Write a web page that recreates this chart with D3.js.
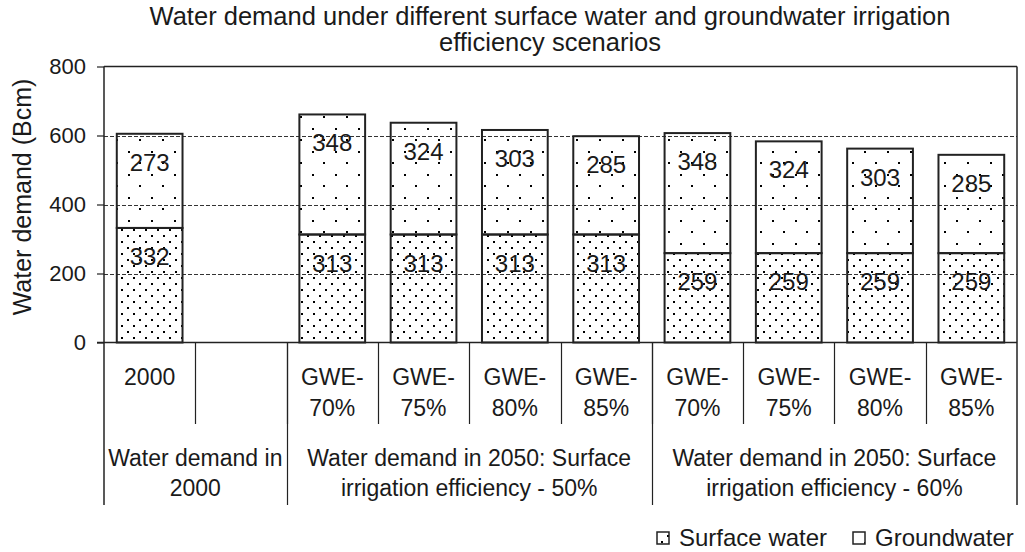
<!DOCTYPE html>
<html>
<head>
<meta charset="utf-8">
<script src="https://cdn.jsdelivr.net/npm/d3@7/dist/d3.min.js"></script>
<style>
body { margin: 0; background: #fff; }
svg { display: block; }
text { font-family: "Liberation Sans", Arial, sans-serif; fill: #1a1a1a; }
</style>
</head>
<body>
<svg id="chart" width="1025" height="552"></svg>
<script>
// data
var categories = ["2000", "", "GWE-70%", "GWE-75%", "GWE-80%", "GWE-85%", "GWE-70%", "GWE-75%", "GWE-80%", "GWE-85%"];
var catLines = [["2000"], [], ["GWE-", "70%"], ["GWE-", "75%"], ["GWE-", "80%"], ["GWE-", "85%"],
                ["GWE-", "70%"], ["GWE-", "75%"], ["GWE-", "80%"], ["GWE-", "85%"]];
var surfaceWater = [332, null, 313, 313, 313, 313, 259, 259, 259, 259];
var groundwater  = [273, null, 348, 324, 303, 285, 348, 324, 303, 285];
var groupLabels = [["Water demand in", "2000"],
                   ["Water demand in 2050: Surface", "irrigation efficiency - 50%"],
                   ["Water demand in 2050: Surface", "irrigation efficiency - 60%"]];
var groupSpans = [2, 4, 4];
var yTicks = [0, 200, 400, 600, 800];
var seriesNames = ["Surface water", "Groundwater"];

var svg = d3.select("#chart");
var pLeft = 104, pRight = 1017, pTop = 66.5, pBottom = 342.5;

// dot patterns
var defs = svg.append("defs");
function dots(id, size) {
  var p = defs.append("pattern").attr("id", id).attr("patternUnits", "userSpaceOnUse")
    .attr("width", size).attr("height", size);
  p.append("rect").attr("x", 1).attr("y", 1).attr("width", 2).attr("height", 2).attr("fill", "#000");
  p.append("rect").attr("x", 1 + Math.round(size / 2)).attr("y", 1 + Math.round(size / 2)).attr("width", 2).attr("height", 2).attr("fill", "#000");
}
dots("dense", 12);
dots("sparse", 23);

var x = d3.scaleBand().domain(d3.range(categories.length)).range([pLeft, pRight]).paddingInner(0).paddingOuter(0);
var y = d3.scaleLinear().domain([0, 800]).range([pBottom, pTop]);
var bw = x.bandwidth() * 0.72;

// title
svg.append("text").attr("text-anchor", "middle").style("font-size", "25.5px")
  .selectAll("tspan").data(["Water demand under different surface water and groundwater irrigation", "efficiency scenarios"])
  .enter().append("tspan").attr("x", 550).attr("y", function(d, i) { return 25 + i * 26; }).text(function(d) { return d; });

// grid lines
svg.selectAll("line.grid").data(yTicks.filter(function(t) { return t > 0 && t < 800; }))
  .enter().append("line").attr("class", "grid")
  .attr("x1", pLeft).attr("x2", pRight)
  .attr("y1", function(d) { return Math.round(y(d)) + 0.5; }).attr("y2", function(d) { return Math.round(y(d)) + 0.5; })
  .attr("stroke", "#333").attr("stroke-width", 1).attr("stroke-dasharray", "4,2");

// plot frame (top and right)
svg.append("line").attr("x1", pLeft).attr("x2", pRight).attr("y1", pTop).attr("y2", pTop).attr("stroke", "#222").attr("stroke-width", 1.5);
svg.append("line").attr("x1", pRight).attr("x2", pRight).attr("y1", pTop).attr("y2", 505).attr("stroke", "#222").attr("stroke-width", 1.5);

// y axis
var yAxis = d3.axisLeft(y).tickValues(yTicks).tickSize(7).tickPadding(11);
var ga = svg.append("g").attr("transform", "translate(" + pLeft + ",0)").call(yAxis);
ga.select(".domain").remove();
ga.selectAll(".tick line").attr("stroke", "#222").attr("stroke-width", 1.2);
ga.selectAll(".tick text").style("font-size", "22px").style("font-family", "Liberation Sans, Arial, sans-serif").attr("fill", "#1a1a1a");
svg.append("line").attr("x1", pLeft).attr("x2", pLeft).attr("y1", pTop).attr("y2", 505).attr("stroke", "#222").attr("stroke-width", 1.5);

svg.append("text").attr("transform", "translate(31,197) rotate(-90)").attr("text-anchor", "middle")
  .style("font-size", "25px").text("Water demand (Bcm)");

// bars
var stacked = categories.map(function(c, i) { return { i: i, s: surfaceWater[i], g: groundwater[i] }; })
  .filter(function(d) { return d.s != null; });

var bars = svg.selectAll("g.bar").data(stacked).enter().append("g").attr("class", "bar");
bars.append("rect")
  .attr("x", function(d) { return x(d.i) + (x.bandwidth() - bw) / 2; })
  .attr("width", bw)
  .attr("y", function(d) { return y(d.s + d.g); })
  .attr("height", function(d) { return y(d.s) - y(d.s + d.g); })
  .attr("fill", "url(#sparse)").attr("stroke", "#222").attr("stroke-width", 2);
bars.append("rect")
  .attr("x", function(d) { return x(d.i) + (x.bandwidth() - bw) / 2; })
  .attr("width", bw)
  .attr("y", function(d) { return y(d.s); })
  .attr("height", function(d) { return y(0) - y(d.s); })
  .attr("fill", "url(#dense)").attr("stroke", "#222").attr("stroke-width", 2);
bars.append("text").attr("text-anchor", "middle").style("font-size", "24px")
  .attr("x", function(d) { return x(d.i) + x.bandwidth() / 2; })
  .attr("y", function(d) { return y(d.s + d.g) + 37; })
  .text(function(d) { return d.g; });
bars.append("text").attr("text-anchor", "middle").style("font-size", "24px")
  .attr("x", function(d) { return x(d.i) + x.bandwidth() / 2; })
  .attr("y", function(d) { return y(d.s) + 37; })
  .text(function(d) { return d.s; });

// category axis
svg.append("line").attr("x1", pLeft - 7).attr("x2", pRight).attr("y1", pBottom).attr("y2", pBottom).attr("stroke", "#222").attr("stroke-width", 1.5);
svg.selectAll("line.ctick").data(d3.range(1, categories.length))
  .enter().append("line").attr("class", "ctick")
  .attr("x1", function(d) { return Math.round(x(d)) + 0.5; }).attr("x2", function(d) { return Math.round(x(d)) + 0.5; })
  .attr("y1", pBottom).attr("y2", 424).attr("stroke", "#222").attr("stroke-width", 1.2);

var cl = svg.selectAll("text.cat").data(catLines).enter().append("text").attr("class", "cat")
  .attr("text-anchor", "middle").style("font-size", "23px");
cl.selectAll("tspan").data(function(d, i) { return d.map(function(t) { return { t: t, i: i }; }); })
  .enter().append("tspan")
  .attr("x", function(d) { return x(d.i) + x.bandwidth() / 2; })
  .attr("y", function(d, j) { return 385 + j * 31; })
  .text(function(d) { return d.t; });

// group labels
var starts = [0];
groupSpans.forEach(function(s, k) { starts.push(starts[k] + s); });
svg.selectAll("line.gsep").data(starts.slice(1, starts.length - 1))
  .enter().append("line").attr("class", "gsep")
  .attr("x1", function(d) { return Math.round(x(d)) + 0.5; }).attr("x2", function(d) { return Math.round(x(d)) + 0.5; })
  .attr("y1", pBottom).attr("y2", 505).attr("stroke", "#222").attr("stroke-width", 1.2);
var gl = svg.selectAll("text.grp").data(groupLabels).enter().append("text").attr("class", "grp")
  .attr("text-anchor", "middle").style("font-size", "23px");
gl.selectAll("tspan").data(function(d, k) {
    var cx = (x(starts[k]) + x(starts[k + 1] - 1) + x.bandwidth()) / 2;
    return d.map(function(t) { return { t: t, cx: cx }; });
  })
  .enter().append("tspan")
  .attr("x", function(d) { return d.cx; })
  .attr("y", function(d, j) { return 466 + j * 30; })
  .text(function(d) { return d.t; });

// legend
var lg = svg.append("g");
var legX = [657, 853];
seriesNames.forEach(function(n, k) {
  lg.append("rect").attr("x", legX[k]).attr("y", 532).attr("width", 12).attr("height", 12)
    .attr("fill", k === 0 ? "url(#dense)" : "url(#sparse)").attr("stroke", "#222").attr("stroke-width", 1.5);
  lg.append("text").attr("x", legX[k] + 22).attr("y", 546).style("font-size", "24px").text(n);
});
</script>
</body>
</html>
